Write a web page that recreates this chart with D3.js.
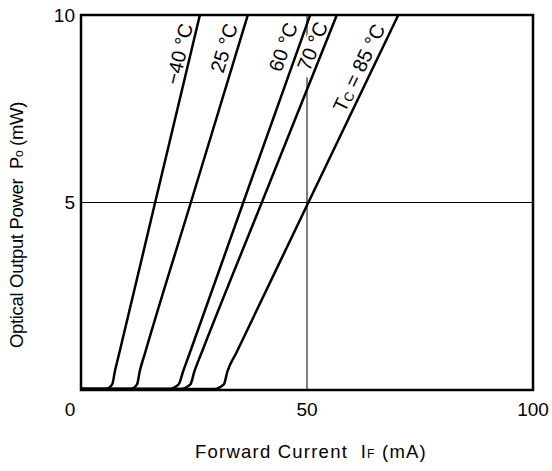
<!DOCTYPE html>
<html><head><meta charset="utf-8">
<script src="https://cdn.jsdelivr.net/npm/d3@7"></script>
<style>body{margin:0;background:#fff}svg{display:block}text{font-family:"Liberation Sans",Arial,sans-serif;fill:#000;white-space:pre}</style>
</head><body><svg id="c" width="552" height="471"></svg>
<script>
// Data: [forward current mA, optical power mW]
const curveM40 = [[0,0.03],[5.5,0.03],[6.9,0.15],[7.5,0.5],[8.5,1],[16.4,5],[26.3,10]];
const curve25  = [[0,0.03],[11.0,0.03],[12.4,0.15],[13.0,0.5],[14.2,1],[24.3,5],[36.9,10]];
const curve60  = [[0,0.03],[19.5,0.03],[21.6,0.15],[22.6,0.5],[24.1,1],[35.9,5],[50.7,10]];
const curve70  = [[0,0.03],[22.0,0.03],[24.2,0.15],[25.1,0.5],[26.7,1],[40.0,5],[56.6,10]];
const curve85  = [[0,0.03],[29.5,0.03],[31.6,0.15],[32.4,0.5],[34.4,1],[50.3,5],[70.2,10]];
const curves = [curveM40, curve25, curve60, curve70, curve85];
const curveLabels = ["\u221240 \u00b0C","25 \u00b0C","60 \u00b0C","70 \u00b0C","TC = 85 \u00b0C"];
const xTicks = [50, 100];
const yTicks = [5, 10];
// annotation anchors (data units)
const labelAnchor = [[21.7,8.96],[31.6,9.12],[44.7,9.15],[51.2,9.17],[61.5,8.59]];

const svg = d3.select("#c");
const L=81,R=533,T=15,B=390;
const x = d3.scaleLinear().domain([0,100]).range([L,R]);
const y = d3.scaleLinear().domain([0,10]).range([B,T]);

// grid lines
svg.append("line").attr("x1",x(50)).attr("x2",x(50)).attr("y1",y(0)).attr("y2",y(10)).attr("stroke","#000").attr("stroke-width",1);
svg.append("line").attr("x1",x(0)).attr("x2",x(100)).attr("y1",y(5)).attr("y2",y(5)).attr("stroke","#000").attr("stroke-width",1);

// labels (with white backgrounds), drawn before curves
curves.forEach((c,i)=>{
  const p5=c[c.length-2], p10=c[c.length-1];
  const ang = Math.atan2(y(p10[1])-y(p5[1]), x(p10[0])-x(p5[0]))*180/Math.PI;
  const g = svg.append("g").attr("transform",`translate(${x(labelAnchor[i][0])},${y(labelAnchor[i][1])}) rotate(${ang})`);
  const t = g.append("text").attr("text-anchor","middle").attr("dy","0.35em").attr("font-size",20);
  if(i===4){
    t.append("tspan").text("T");
    t.append("tspan").attr("font-size",13).attr("dy",1).text("C");
    t.append("tspan").attr("dy",-1).text(" = 85 \u00b0C");
  } else t.text(curveLabels[i]);
  const bb=t.node().getBBox();
  g.insert("rect","text").attr("x",bb.x-6).attr("y",bb.y+2).attr("width",bb.width+6).attr("height",bb.height-4).attr("fill","#fff");
});

const line = d3.line().x(d=>x(d[0])).y(d=>y(d[1])).curve(d3.curveMonotoneX);
svg.selectAll("path.c").data(curves).enter().append("path").attr("class","c")
  .attr("d",line).attr("fill","none").attr("stroke","#000").attr("stroke-width",2.5).attr("stroke-linejoin","round");

// frame
svg.append("rect").attr("x",L).attr("y",T).attr("width",R-L).attr("height",B-T).attr("fill","none").attr("stroke","#000").attr("stroke-width",2.5);

// tick labels
svg.append("text").attr("x",70).attr("y",409).attr("dy","0.35em").attr("text-anchor","middle").attr("font-size",19).text("0");
xTicks.forEach(v=>svg.append("text").attr("x",x(v)).attr("y",409).attr("dy","0.35em").attr("text-anchor","middle").attr("font-size",19).text(v));
yTicks.forEach(v=>svg.append("text").attr("x",75).attr("y",y(v)).attr("dy","0.35em").attr("text-anchor","end").attr("font-size",19).text(v));

function fit(t, target, n){
  const len=t.node().getComputedTextLength();
  t.attr("letter-spacing",(target-len)/n);
}
// axis titles
const xt = svg.append("text").attr("x",311).attr("y",452).attr("dy","0.35em").attr("text-anchor","middle").attr("font-size",18.5);
xt.append("tspan").text("Forward Current\u00a0\u00a0I");
xt.append("tspan").attr("font-size",12).text("F");
xt.append("tspan").text(" (mA)");
fit(xt,232,24);
const yt = svg.append("text").attr("transform","translate(17,225) rotate(-90)").attr("dy","0.35em").attr("text-anchor","middle").attr("font-size",18.5);
yt.append("tspan").text("Optical Output Power\u00a0\u00a0P");
yt.append("tspan").attr("font-size",12).text("o");
yt.append("tspan").text(" (mW)");
fit(yt,246,29);
</script></body></html>
